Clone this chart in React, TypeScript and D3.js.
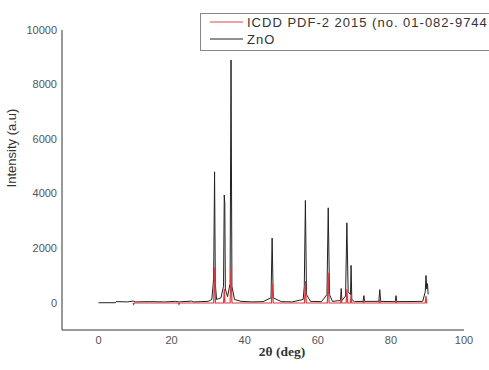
import { useRef, useEffect } from 'react';
import * as d3 from 'd3';

// ZnO measured pattern (2θ, intensity)
const znoTheta = [
  0, 4.6, 4.8, 8, 9.5, 10, 14, 18, 21, 22, 25.5, 26, 30, 31.0, 31.5, 31.75, 31.95, 32.3, 33.5, 34.2, 34.4,
  34.55, 34.7, 35.3, 36.0, 36.25, 36.5, 37.2, 39, 42, 45, 47.2, 47.5, 47.8, 50, 53, 56.0, 56.3, 56.6, 56.9,
  58, 61, 62.5, 62.85, 63.2, 64, 66.2, 66.4, 66.6, 67.6, 67.95, 68.3, 68.95, 69.1, 69.3, 70, 72.4, 72.6,
  72.8, 76.7, 76.95, 77.2, 81.2, 81.4, 81.6, 88.7, 89.4, 89.6, 89.8, 90.0, 90.2,
];
const znoIntensity = [
  0, 0, 40, 30, 60, 30, 40, 30, 50, 30, 60, 30, 50, 120, 900, 4800, 700, 120, 180, 600, 3950,
  3650, 500, 220, 700, 8900, 600, 120, 50, 30, 40, 180, 2370, 180, 40, 30, 120, 600, 3750, 300,
  50, 40, 300, 3480, 300, 50, 80, 520, 80, 250, 2930, 400, 300, 1370, 120, 40, 50, 260,
  50, 50, 480, 50, 40, 260, 40, 50, 400, 1000, 500, 700, 300,
];

// ICDD PDF-2 reference pattern
const refTheta = [
  9.4, 9.6, 9.8, 21.8, 22.0, 22.2, 31.5, 31.77, 32.0, 34.2, 34.42, 34.6, 36.0, 36.25, 36.5, 47.3, 47.54,
  47.8, 56.35, 56.6, 56.85, 62.6, 62.86, 63.1, 66.2, 66.38, 66.55, 67.75, 67.96, 68.2, 68.9, 69.1, 69.3,
  72.4, 72.56, 72.7, 76.8, 76.95, 77.1, 81.25, 81.4, 81.55, 89.4, 89.6, 89.8, 90.0,
];
const refIntensity = [
  -10, -60, -10, -10, -60, -10, -10, 1300, -10, -10, 500, -10, -10, 1300, -10, -10, 700,
  -10, -10, 800, -10, -10, 1100, -10, -10, 150, -10, -10, 500, -10, -10, 300, -10,
  -10, 60, -10, -10, 120, -10, -10, 60, -10, -10, 250, -10, -10,
];

const xTicks = [0, 20, 40, 60, 80, 100];
const yTicks = [0, 2000, 4000, 6000, 8000, 10000];
const legendItems = [
  { label: 'ICDD PDF-2 2015 (no. 01-082-9744', color: '#e0474c' },
  { label: 'ZnO', color: '#222' },
];

export default function App() {
  const svgRef = useRef<SVGSVGElement>(null);

  useEffect(() => {
    if (!svgRef.current) return;
    const svg = d3.select(svgRef.current);
    svg.selectAll('*').remove();

    const width = 489;
    const height = 370;
    const left = 62;
    const right = 464;
    const top = 30;
    const bottom = 330;

    const x = d3.scaleLinear().domain([-10, 100]).range([left, 98 + 366]);
    const y = d3.scaleLinear().domain([-1000, 10000]).range([bottom, top]);

    svg.attr('width', width).attr('height', height);
    svg.append('rect').attr('width', width).attr('height', height).attr('fill', '#fff');

    const line = d3
      .line<[number, number]>()
      .x((d) => x(d[0]))
      .y((d) => y(d[1]));

    const zno = znoTheta.map((t, i) => [t, znoIntensity[i]] as [number, number]);
    const ref = refTheta.map((t, i) => [t, refIntensity[i]] as [number, number]);

    svg
      .append('path')
      .attr('d', line(zno))
      .attr('fill', 'none')
      .attr('stroke', '#222')
      .attr('stroke-width', 1);

    svg
      .append('path')
      .attr('d', line(ref))
      .attr('fill', 'none')
      .attr('stroke', '#d93a40')
      .attr('stroke-width', 1.2);

    // Axes lines
    svg
      .append('path')
      .attr('d', `M${left},${top}V${bottom}H${right}`)
      .attr('fill', 'none')
      .attr('stroke', '#333')
      .attr('stroke-width', 1);

    // Tick labels
    svg
      .selectAll('.xt')
      .data(xTicks)
      .enter()
      .append('text')
      .attr('x', (d) => x(d))
      .attr('y', 344)
      .attr('text-anchor', 'middle')
      .attr('fill', '#555')
      .attr('font-family', 'Liberation Sans, Arial, sans-serif')
      .attr('font-size', '11px')
      .text((d) => d);

    svg
      .selectAll('.yt')
      .data(yTicks)
      .enter()
      .append('text')
      .attr('x', 57)
      .attr('y', (d) => y(d))
      .attr('dy', '0.35em')
      .attr('text-anchor', 'end')
      .attr('fill', '#555')
      .attr('font-family', 'Liberation Sans, Arial, sans-serif')
      .attr('font-size', '11px')
      .text((d) => d);

    // Axis titles
    svg
      .append('text')
      .attr('x', 282)
      .attr('y', 356)
      .attr('text-anchor', 'middle')
      .attr('fill', '#333')
      .attr('font-family', 'Liberation Serif, serif')
      .attr('font-weight', 'bold')
      .attr('font-size', '13.5px')
      .text('2θ (deg)');

    svg
      .append('text')
      .attr('transform', `translate(16,${148}) rotate(-90)`)
      .attr('text-anchor', 'middle')
      .attr('fill', '#333')
      .attr('font-family', 'Liberation Sans, Arial, sans-serif')
      .attr('font-size', '13px')
      .text('Intensity (a.u)');

    // Legend
    svg
      .append('rect')
      .attr('x', 200.5)
      .attr('y', 13.5)
      .attr('width', 300)
      .attr('height', 37)
      .attr('fill', '#fff')
      .attr('stroke', '#888');

    const lg = svg
      .selectAll('.lg')
      .data(legendItems)
      .enter()
      .append('g')
      .attr('transform', (_, i) => `translate(0,${22 + i * 17})`);

    lg.append('line')
      .attr('x1', 210)
      .attr('x2', 243)
      .attr('stroke', (d) => d.color)
      .attr('stroke-width', 1);

    lg.append('text')
      .attr('x', 247)
      .attr('dy', '0.35em')
      .attr('fill', '#333')
      .attr('font-family', 'Liberation Sans, Arial, sans-serif')
      .attr('font-size', '13px')
      .attr('letter-spacing', '1px')
      .text((d) => d.label);
  }, []);

  return <svg ref={svgRef} style={{ position: 'absolute', left: 0, top: 0 }} />;
}
